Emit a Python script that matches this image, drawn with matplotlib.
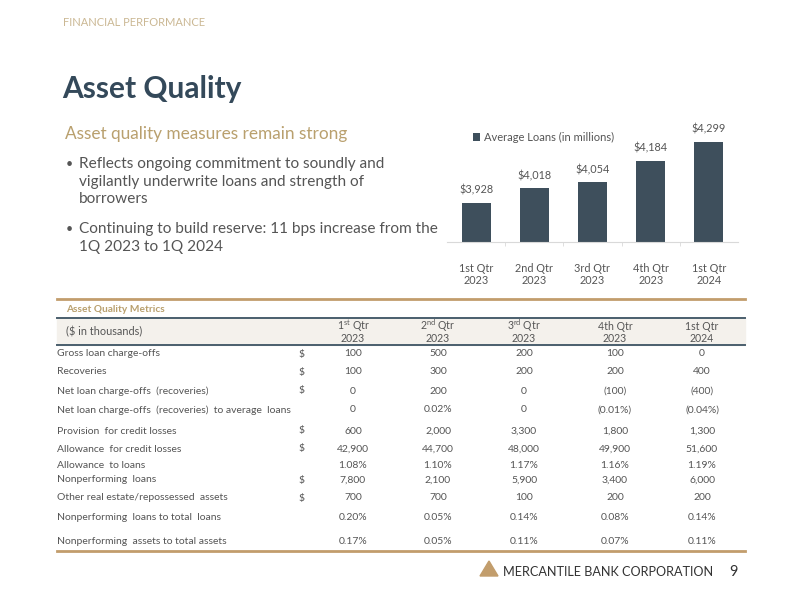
import matplotlib
matplotlib.use("Agg")
import matplotlib.pyplot as plt
from matplotlib.patches import Rectangle, Polygon
import numpy as np

plt.rcParams['font.family'] = ['Lato', 'DejaVu Sans']
plt.rcParams['mathtext.fontset'] = 'custom'
plt.rcParams['mathtext.rm'] = 'Lato'

# ---- data ----
quarters = ["1st Qtr\n2023", "2nd Qtr\n2023", "3rd Qtr\n2023", "4th Qtr\n2023", "1st Qtr\n2024"]
avg_loans = [3928, 4018, 4054, 4184, 4299]

col_heads = ["1$^{\\mathrm{st}}$ Qtr", "2$^{\\mathrm{nd}}$ Qtr", "3$^{\\mathrm{rd}}$ Qtr", "4th Qtr", "1st Qtr"]
col_years = ["2023", "2023", "2023", "2023", "2024"]
gross_chargeoffs = [100, 500, 200, 100, 0]
recoveries = [100, 300, 200, 200, 400]
net_chargeoffs = [0, 200, 0, -100, -400]
net_to_avg = [0, 0.02, 0, -0.01, -0.04]
provision = [600, 2000, 3300, 1800, 1300]
allowance = [42900, 44700, 48000, 49900, 51600]
allowance_to_loans = [1.08, 1.10, 1.17, 1.16, 1.19]
npl = [7800, 2100, 5900, 3400, 6000]
other_re = [700, 700, 100, 200, 200]
npl_to_loans = [0.20, 0.05, 0.14, 0.08, 0.14]
npa_to_assets = [0.17, 0.05, 0.11, 0.07, 0.11]

# label, values, is dollar, is percent, row y (px)
rows = [
    ("Gross loan charge-offs", gross_chargeoffs, True, False, 354),
    ("Recoveries", recoveries, True, False, 372),
    ("Net loan charge-offs  (recoveries)", net_chargeoffs, True, False, 391),
    ("Net loan charge-offs  (recoveries)  to average  loans", net_to_avg, False, True, 410),
    ("Provision  for credit losses", provision, True, False, 431),
    ("Allowance  for credit losses", allowance, True, False, 449),
    ("Allowance  to loans", allowance_to_loans, False, True, 465),
    ("Nonperforming  loans", npl, True, False, 480),
    ("Other real estate/repossessed  assets", other_re, True, False, 498),
    ("Nonperforming  loans to total  loans", npl_to_loans, False, True, 518),
    ("Nonperforming  assets to total assets", npa_to_assets, False, True, 541),
]


def fmt(v, pct):
    if v == 0:
        return "0"
    s = f"{abs(v):.2f}%" if pct else f"{abs(v):,}"
    return f"({s})" if v < 0 else s


tan = "#c29d6c"
slate = "#3e4f5c"
gray = "#555555"

fig = plt.figure(figsize=(8, 6), dpi=100)
bg = fig.add_axes([0, 0, 1, 1])
bg.set_xlim(0, 800)
bg.set_ylim(600, 0)
bg.axis("off")

# ---- header text ----
bg.text(63, 22, "FINANCIAL PERFORMANCE", color="#cbb894", fontsize=8, va="center")
bg.text(62, 89, "Asset Quality", color="#34495a", fontsize=21.5, fontweight="bold", va="center")
bg.text(65, 134, "Asset quality measures remain strong", color="#b9a06e", fontsize=12.4, va="center")
bullets = [
    (164, "Reflects ongoing commitment to soundly and"),
    (182, "vigilantly underwrite loans and strength of"),
    (199, "borrowers"),
    (229, "Continuing to build reserve: 11 bps increase from the"),
    (247, "1Q 2023 to 1Q 2024"),
]
for y, t in bullets:
    bg.text(79, y, t, color=gray, fontsize=11.1, va="center")
bg.text(66, 164, "•", color=gray, fontsize=9, va="center")
bg.text(66, 229, "•", color=gray, fontsize=9, va="center")

# ---- bar chart ----
ax = fig.add_axes([447 / 800, 1 - 242 / 600, 291 / 800, 127 / 600])
x = np.arange(len(avg_loans))
bars = ax.bar(x, avg_loans, width=0.5, color=slate, label="Average Loans (in millions)")
ax.set_ylim(3690, 3690 + 127 * 6.08)
ax.set_xlim(-0.5, 4.5)
for b, v in zip(bars, avg_loans):
    ax.annotate(f"${v:,}", (b.get_x() + b.get_width() / 2, v), xytext=(0, 5),
                textcoords="offset points", ha="center", va="bottom", fontsize=7.8, color=gray)
ax.set_xticks(x)
ax.set_xticklabels(quarters, fontsize=7.8, color=gray, linespacing=1.15)
ax.tick_params(axis="x", which="major", length=0, pad=15)
ax.set_xticks(x[:-1] + 0.5, minor=True)
ax.tick_params(axis="x", which="minor", length=3, color="#d9d9d9")
ax.set_yticks([])
for s in ["top", "right", "left"]:
    ax.spines[s].set_visible(False)
ax.spines["bottom"].set_color("#d9d9d9")
ax.patch.set_alpha(0)
leg = ax.legend(loc="upper left", bbox_to_anchor=(467 / 800, 1 - 126 / 600),
                bbox_transform=fig.transFigure, frameon=False, fontsize=8,
                handlelength=0.7, handleheight=0.7, handletextpad=0.3, borderpad=0)
for t in leg.get_texts():
    t.set_color(gray)

# ---- table ----
bg.plot([57, 745], [299, 299], color=tan, lw=2)
bg.text(66, 310, "Asset Quality Metrics", color="#b9a06e", fontsize=7.3, fontweight="bold", va="center")
bg.add_patch(Rectangle((57, 318), 688, 27, color="#f4f1ec", zorder=0))
bg.plot([57, 745], [318, 318], color="#4a5e6d", lw=1.4)
bg.plot([57, 745], [345, 345], color="#4a5e6d", lw=1.4)
bg.text(66, 332, "($ in thousands)", color=gray, fontsize=7.8, va="center")

col_x = [353, 438, 524, 615, 702]
for cx, h, yr in zip(col_x, col_heads, col_years):
    bg.text(cx, 330.5, h, color=gray, fontsize=7.6, ha="center", va="baseline")
    bg.text(cx, 342.5, yr, color=gray, fontsize=7.6, ha="center", va="baseline")

for label, vals, dollar, pct, y in rows:
    bg.text(57, y, label, color=gray, fontsize=7.5, va="center")
    if dollar:
        bg.text(302, y, "$", color=gray, fontsize=7.5, ha="center", va="center")
    for cx, v in zip(col_x, vals):
        bg.text(cx, y, fmt(v, pct), color=gray, fontsize=7.5, ha="center", va="center")

bg.plot([57, 745], [551, 551], color=tan, lw=2)

# ---- footer ----
bg.add_patch(Polygon([[480, 576], [489, 561], [498, 576]], closed=True, color=tan))
bg.text(503, 572, "MERCANTILE BANK CORPORATION", color="#333333", fontsize=9.1, va="center")
bg.text(733, 572, "9", color="#333333", fontsize=10.5, va="center", ha="center")

fig.savefig("out.png", dpi=100)
